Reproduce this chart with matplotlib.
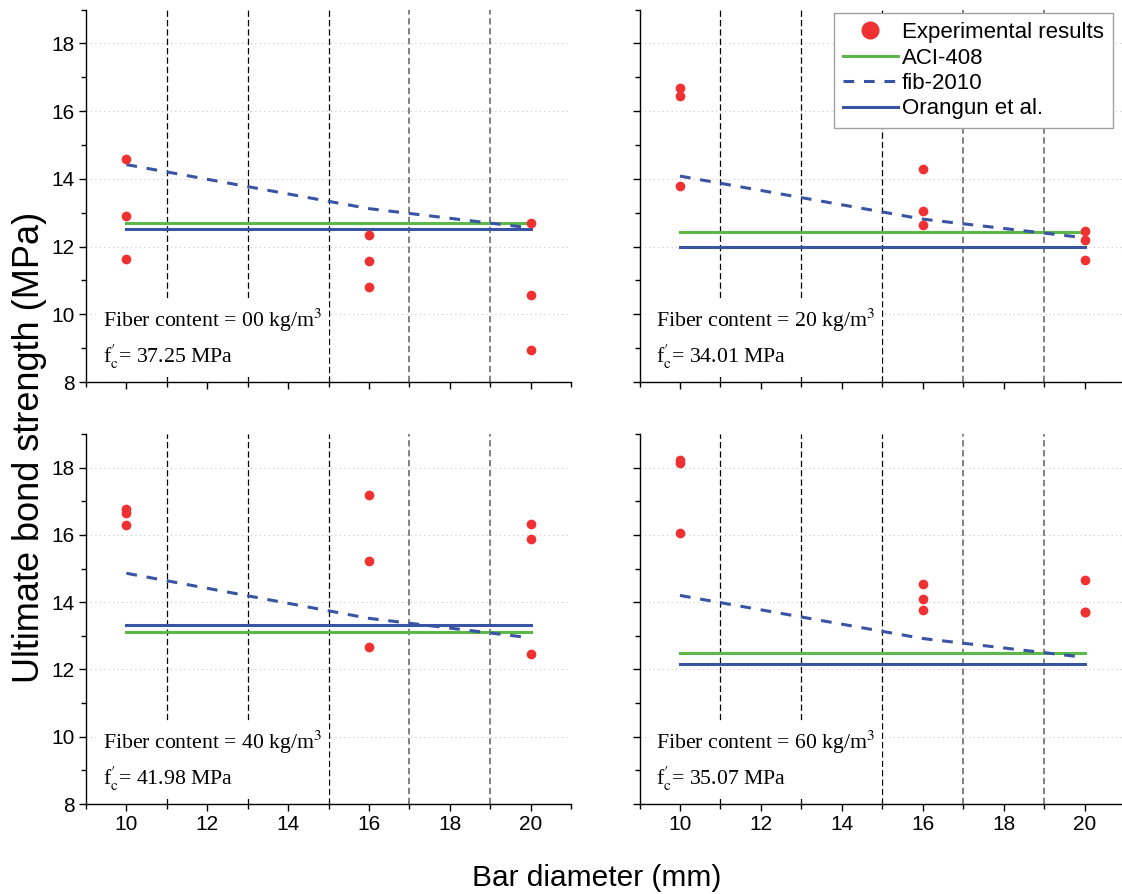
import matplotlib
matplotlib.use("Agg")
import matplotlib.pyplot as plt
from matplotlib.ticker import MultipleLocator
from matplotlib.lines import Line2D

plt.rcParams["font.family"] = ["Liberation Sans", "DejaVu Sans"]
plt.rcParams["mathtext.fontset"] = "stix"

# bar diameters tested (mm)
diam = [10, 16, 20]

# experimental bond strength (MPa), three specimens per diameter
exp_00 = [[14.60, 12.90, 11.62], [12.35, 11.56, 10.82], [12.69, 10.56, 8.95]]
exp_20 = [[16.68, 16.45, 13.79], [14.29, 13.06, 12.65], [12.47, 12.20, 11.60]]
exp_40 = [[16.77, 16.65, 16.28], [17.19, 15.22, 12.68], [16.33, 15.89, 12.45]]
exp_60 = [[18.22, 18.15, 16.05], [14.55, 14.10, 13.78], [14.67, 13.70, 13.70]]

# code predictions
aci_408 = [12.70, 12.43, 13.11, 12.50]
orangun = [12.52, 11.98, 13.33, 12.15]
fib_2010 = [[14.42, 13.12, 12.55], [14.08, 12.81, 12.26],
            [14.86, 13.52, 12.94], [14.20, 12.92, 12.36]]

fiber = ["00", "20", "40", "60"]
fc = ["37.25", "34.01", "41.98", "35.07"]
experiments = [exp_00, exp_20, exp_40, exp_60]

divider_x = [11, 13, 15, 17, 19]

RED = "#ef3131"
GREEN = "#5cb848"
BLUE = "#3a54a4"

W, H = 1122, 894
fig = plt.figure(figsize=(W / 100, H / 100), dpi=100)

# panel rectangles in pixels: left, top, right, bottom
boxes = [(86, 9.5, 571, 382), (639.5, 9.5, 1125, 382),
         (86, 434, 571, 804), (639.5, 434, 1125, 804)]

axes = []
for k, (l, t, r, b) in enumerate(boxes):
    ax = fig.add_axes([l / W, (H - b) / H, (r - l) / W, (b - t) / H])
    axes.append(ax)

    ax.set_xlim(9, 21)
    ax.set_ylim(8, 19)
    ax.xaxis.set_major_locator(MultipleLocator(2))
    ax.xaxis.set_minor_locator(MultipleLocator(1))
    ax.yaxis.set_major_locator(MultipleLocator(2))
    ax.yaxis.set_minor_locator(MultipleLocator(1))
    ax.set_yticks([8, 10, 12, 14, 16, 18])
    for s in ("top", "right"):
        ax.spines[s].set_visible(False)
    for s in ("left", "bottom"):
        ax.spines[s].set_linewidth(1.0)
    ax.tick_params(which="major", direction="out", length=5, width=1.0,
                   labelsize=15, pad=3)
    ax.tick_params(which="minor", direction="out", length=3.3, width=1.0)
    if k < 2:
        ax.tick_params(axis="x", labelbottom=False)
    if k % 2 == 1:
        ax.tick_params(axis="y", labelleft=False)

    ax.grid(axis="y", which="major", color="#c8c8c8", lw=0.8,
            linestyle=(0, (1, 3)), zorder=0)
    ax.set_axisbelow(True)

    for xv in divider_x:
        if xv < 17:
            ax.axvline(xv, color="black", lw=0.9, dashes=(5, 2.5), zorder=1)
        else:
            ax.axvline(xv, color="#777777", lw=1.3, dashes=(3.5, 2), zorder=1)

    ax.plot([diam[0], diam[-1]], [aci_408[k]] * 2, color=GREEN, lw=2.2,
            zorder=3)
    ax.plot([diam[0], diam[-1]], [orangun[k]] * 2, color=BLUE, lw=2.2,
            zorder=3)
    ax.plot(diam, fib_2010[k], color=BLUE, lw=2.2, dashes=(3.5, 3.2),
            zorder=3)
    for d, vals in zip(diam, experiments[k]):
        ax.plot([d] * len(vals), vals, "o", color=RED, ms=7, mec="none",
                zorder=4, clip_on=False)

    ax.text(0.035, 0.03,
            "Fiber content = " + fiber[k] + r" kg/m$^3$" + "\n"
            + r"f$_{\mathrm{c}}^{\prime}$= " + fc[k] + " MPa",
            transform=ax.transAxes, ha="left", va="bottom",
            family=["Liberation Serif", "DejaVu Serif"], fontsize=15.7,
            linespacing=1.45, zorder=5,
            bbox=dict(boxstyle="square,pad=0.3", fc="white", ec="none"))

handles = [
    Line2D([], [], marker="o", ls="none", color=RED, ms=13, mec="none"),
    Line2D([], [], color=GREEN, lw=2.2),
    Line2D([], [], color=BLUE, lw=2.2, dashes=(3.5, 3.2)),
    Line2D([], [], color=BLUE, lw=2.2),
]
labels = ["Experimental results", "ACI-408", "fib-2010", "Orangun et al."]
leg = axes[1].legend(handles, labels, loc="upper right",
                     bbox_to_anchor=(0.975, 0.99), borderaxespad=0,
                     fontsize=16, handlelength=2.45, handletextpad=0.2,
                     labelspacing=0.2, borderpad=0.4, fancybox=False,
                     framealpha=1, edgecolor="#a0a0a0")
leg.get_frame().set_linewidth(1.0)
leg.set_zorder(10)

fig.text(30 / W, 1 - 447 / H, "Ultimate bond strength (MPa)", rotation=90,
         ha="center", va="center", fontsize=26)
fig.text(597 / W, 1 - 878 / H, "Bar diameter (mm)", ha="center",
         va="center", fontsize=21.5)

fig.savefig("out.png", dpi=100)
